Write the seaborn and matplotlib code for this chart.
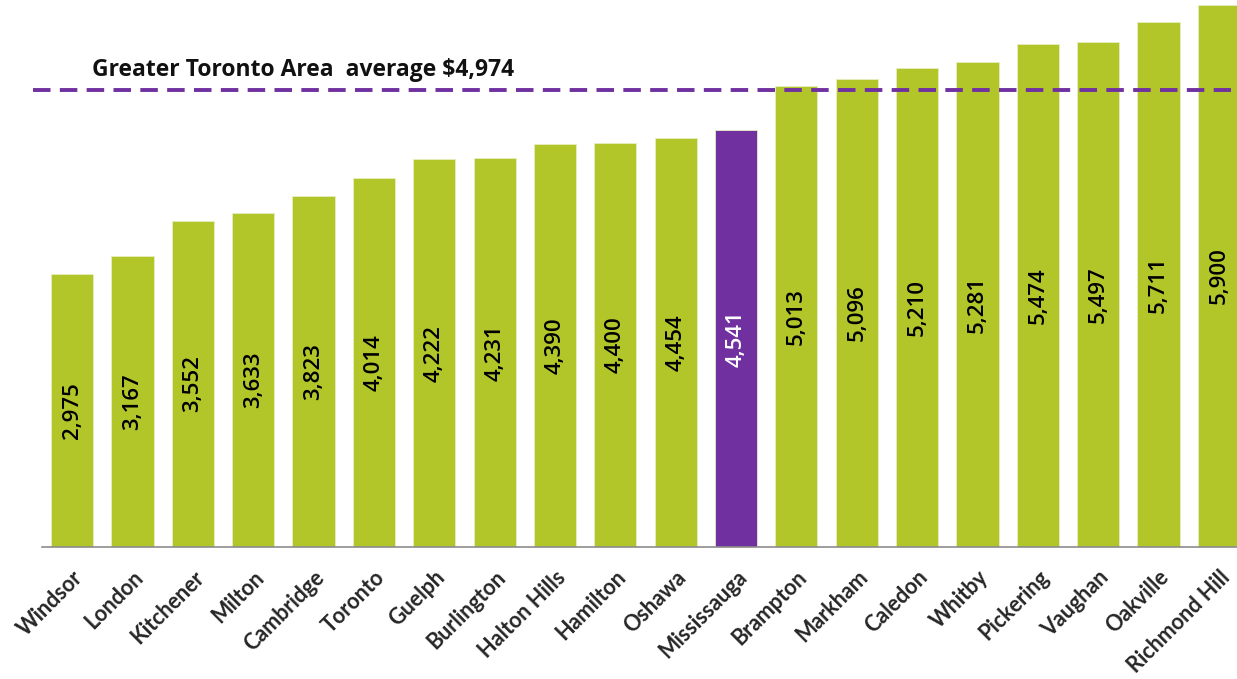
import matplotlib.pyplot as plt
import seaborn as sns
import pandas as pd
import numpy as np

cities = ['Windsor', 'London', 'Kitchener', 'Milton', 'Cambridge', 'Toronto',
          'Guelph', 'Burlington', 'Halton Hills', 'Hamilton', 'Oshawa',
          'Mississauga', 'Brampton', 'Markham', 'Caledon', 'Whitby',
          'Pickering', 'Vaughan', 'Oakville', 'Richmond Hill']
values = [2975, 3167, 3552, 3633, 3823, 4014, 4222, 4231, 4390, 4400, 4454,
          4541, 5013, 5096, 5210, 5281, 5474, 5497, 5711, 5900]
highlight = 'Mississauga'
gta_average = 4974

GREEN = '#b2c62a'
PURPLE = '#7030a0'

df = pd.DataFrame({'city': cities, 'value': values})
df['group'] = np.where(df['city'] == highlight, 'hi', 'lo')

sns.set_style('white')
plt.rcParams['font.family'] = ['Lato', 'DejaVu Sans']

fig = plt.figure(figsize=(12.37, 6.79), dpi=100)
# axes spans a little past the right edge, like the original crop
ax = fig.add_axes([42 / 1237, 132 / 679, 1207 / 1237, 542 / 679])

sns.barplot(data=df, x='city', y='value', hue='group',
            palette={'hi': PURPLE, 'lo': GREEN}, width=0.7, saturation=1,
            edgecolor='#e6edc0', linewidth=0.6, legend=False, ax=ax)

ax.set_xlim(-0.5, len(cities) - 0.5)
ax.set_ylim(0, max(values))

# value labels inside the bars
for i, (c, v) in enumerate(zip(cities, values)):
    col = 'white' if c == highlight else 'black'
    ax.text(i, v / 2, f'{v:,}', rotation=90, ha='center', va='center',
            fontsize=16, fontweight='semibold', color=col,
            family=['Open Sans', 'DejaVu Sans'])

# GTA average line
ax.hlines(gta_average, -0.65, len(cities) - 0.8, colors=PURPLE,
          linestyles=(0, (4.5, 2.4)), linewidth=2.8, clip_on=False, zorder=5)
ax.annotate(f'Greater Toronto Area  average ${gta_average:,}',
            xy=(0.33, gta_average), xytext=(0, 6), textcoords='offset points',
            fontsize=16.5, fontweight='bold', color='#111111', va='bottom',
            family=['Open Sans', 'DejaVu Sans'])

# axis styling
for s in ['top', 'right', 'left']:
    ax.spines[s].set_visible(False)
ax.spines['bottom'].set_color('#8c8c8c')
ax.spines['bottom'].set_linewidth(1.2)
ax.set_yticks([])
ax.set_xlabel('')
ax.set_ylabel('')
ax.set_xticks(np.arange(len(cities)))
ax.set_xticklabels(cities, rotation=45, ha='right', rotation_mode='anchor',
                   fontsize=15.5, fontweight='bold')
ax.tick_params(axis='x', which='major', length=0, pad=14)
ax.set_xticks(np.arange(-0.5, len(cities)), minor=True)
ax.tick_params(axis='x', which='minor', direction='in', length=7,
               color='#9a9a9a', width=1)

fig.savefig('out.png', dpi=100)
